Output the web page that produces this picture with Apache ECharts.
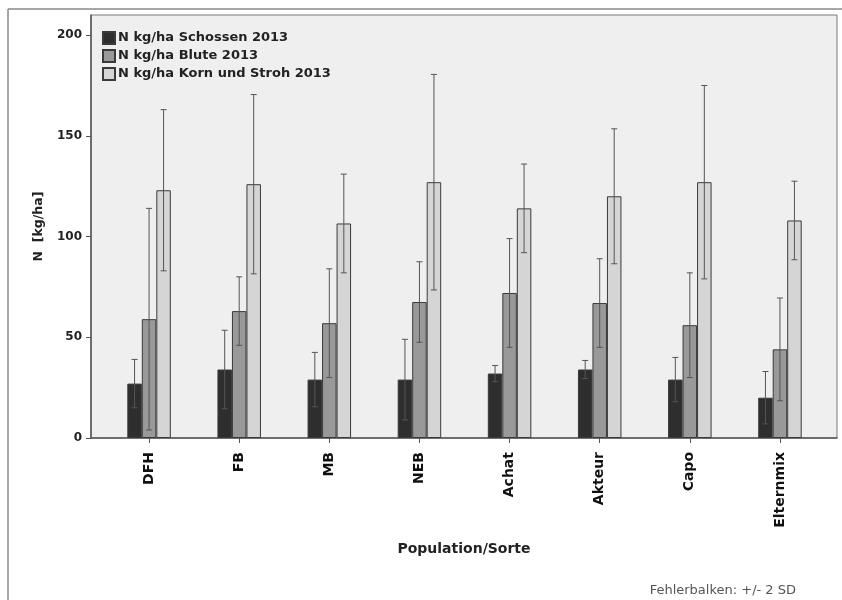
<!DOCTYPE html>
<html>
<head>
<meta charset="utf-8">
<script src="https://cdn.jsdelivr.net/npm/echarts@6/dist/echarts.min.js"></script>
<style>
html,body{margin:0;padding:0;background:#fff;}
#chart{width:842px;height:600px;}
</style>
</head>
<body>
<div id="chart"></div>
<script>
var categories = ['DFH','FB','MB','NEB','Achat','Akteur','Capo','Elternmix'];
var seriesNames = ['N kg/ha Schossen 2013','N kg/ha Blute 2013','N kg/ha Korn und Stroh 2013'];
var schossen    = [27, 34, 29, 29, 32, 34, 29, 20];
var schossenErr = [12, 19.5, 13.5, 20, 4, 4.5, 11, 13];
var bluete      = [59, 63, 57, 67.5, 72, 67, 56, 44];
var blueteErr   = [55, 17, 27, 20, 27, 22, 26, 25.5];
var korn        = [123, 126, 106.5, 127, 114, 120, 127, 108];
var kornErr     = [40, 44.5, 24.5, 53.5, 22, 33.5, 48, 19.5];
var yTicks = [0, 50, 100, 150, 200];

var means = [schossen, bluete, korn];
var errs = [schossenErr, blueteErr, kornErr];
var colors = ['#2e2e2e', '#999999', '#d5d5d5'];
var BW = 14.5;
var offsets = [-BW, 0, BW];

function errData(m, e) {
  return m.map(function (v, i) { return [i, v - e[i], v + e[i]]; });
}
function makeRender(off) {
  return function (params, api) {
    var p1 = api.coord([api.value(0), api.value(1)]);
    var p2 = api.coord([api.value(0), api.value(2)]);
    var x = p1[0] + off;
    var st = { stroke: '#555', lineWidth: 1 };
    return {
      type: 'group',
      children: [
        { type: 'line', shape: { x1: x, y1: p1[1], x2: x, y2: p2[1] }, style: st },
        { type: 'line', shape: { x1: x - 3, y1: p1[1], x2: x + 3, y2: p1[1] }, style: st },
        { type: 'line', shape: { x1: x - 3, y1: p2[1], x2: x + 3, y2: p2[1] }, style: st }
      ]
    };
  };
}

var series = [];
for (var s = 0; s < 3; s++) {
  series.push({
    name: seriesNames[s], type: 'bar', xAxisIndex: 1, yAxisIndex: 1,
    barWidth: BW, barGap: '0%', data: means[s],
    itemStyle: { color: colors[s], borderColor: '#3a3a3a', borderWidth: 1 },
    emphasis: { disabled: true }
  });
}
for (var s2 = 0; s2 < 3; s2++) {
  series.push({
    type: 'custom', xAxisIndex: 1, yAxisIndex: 1, z: 10,
    renderItem: makeRender(offsets[s2]), data: errData(means[s2], errs[s2]),
    silent: true
  });
}

var chart = echarts.init(document.getElementById('chart'), null, { renderer: 'canvas' });
chart.setOption({
  animation: false,
  backgroundColor: '#ffffff',
  textStyle: { fontFamily: 'DejaVu Sans' },
  grid: [
    { left: 91, right: 5, top: 15, bottom: 162, show: true, backgroundColor: '#efefef', borderColor: '#7a7a7a', borderWidth: 1 },
    { left: 104, right: 17, top: 15, bottom: 162, show: false }
  ],
  legend: {
    data: seriesNames, orient: 'vertical', left: 97, top: 26,
    itemWidth: 12, itemHeight: 12, itemGap: 4, icon: 'rect',
    textStyle: { fontFamily: 'DejaVu Sans', fontWeight: 'bold', fontSize: 13, color: '#222', padding: [0, 0, 0, -2] }
  },
  xAxis: [
    { type: 'value', gridIndex: 0, min: 0, max: 1, splitLine: { show: false },
      axisLine: { show: true, onZero: false, lineStyle: { color: '#555', width: 1.5 } },
      axisTick: { show: false }, axisLabel: { show: false },
      name: 'Population/Sorte', nameLocation: 'middle', nameGap: 104,
      nameTextStyle: { fontFamily: 'DejaVu Sans', fontWeight: 'bold', fontSize: 14, color: '#222' } },
    { type: 'category', gridIndex: 1, data: categories, boundaryGap: true,
      axisLine: { show: false },
      axisTick: { show: true, alignWithLabel: true, length: 5, lineStyle: { color: '#555' } },
      axisLabel: { rotate: 90, margin: 14, fontFamily: 'DejaVu Sans', fontWeight: 'bold', fontSize: 14, color: '#111' } }
  ],
  yAxis: [
    { type: 'value', gridIndex: 0, min: 0, max: 210, splitLine: { show: false },
      axisLine: { show: true, lineStyle: { color: '#555', width: 1.5 } },
      axisTick: { show: true, length: 5, customValues: yTicks, lineStyle: { color: '#555' } },
      axisLabel: { customValues: yTicks, margin: 9, fontFamily: 'DejaVu Sans', fontWeight: 'bold', fontSize: 12, color: '#222' },
      name: 'N  [kg/ha]', nameLocation: 'middle', nameGap: 46, nameRotate: 90,
      nameTextStyle: { fontFamily: 'DejaVu Sans', fontWeight: 'bold', fontSize: 12.5, color: '#222' } },
    { type: 'value', gridIndex: 1, min: 0, max: 210, show: false }
  ],
  series: series,
  graphic: [
    { type: 'line', shape: { x1: 8, y1: 9, x2: 842, y2: 9 }, style: { stroke: '#8a8a8a', lineWidth: 1.5 } },
    { type: 'line', shape: { x1: 8, y1: 9, x2: 8, y2: 600 }, style: { stroke: '#8a8a8a', lineWidth: 1.5 } },
    { type: 'text', right: 46, top: 584, style: { text: 'Fehlerbalken: +/- 2 SD', font: '13px "DejaVu Sans"', fill: '#555' } }
  ]
});
</script>
</body>
</html>
